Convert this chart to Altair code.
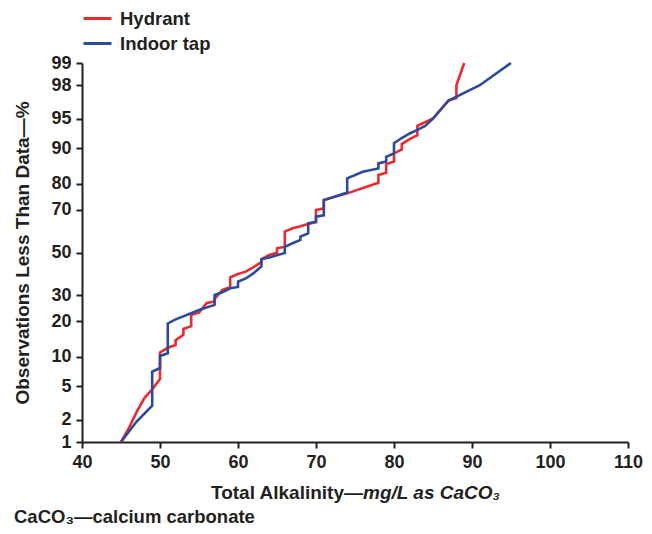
import altair as alt
import pandas as pd
from statistics import NormalDist

# Hydrant: total alkalinity (mg/L as CaCO3) and cumulative percentage
hyd_x = [45, 46, 47, 48, 49, 50, 50, 51, 52, 52, 53, 53, 54, 54, 55, 56, 57, 57, 58, 59, 59,
         60, 61, 62, 63, 63, 64, 65, 65, 66, 66, 67, 68, 69, 70, 70, 71, 71, 74, 78, 78,
         79, 79, 80, 80, 81, 81, 82, 83, 83, 85, 87, 88, 88, 89]
hyd_p = [1.0, 1.55, 2.5, 3.7, 4.65, 6.0, 11.0, 12.1, 12.8, 14.1, 15.6, 17.4, 18.3, 22.2, 23.0, 26.8, 27.4, 28.4, 32.3, 33.5, 38.0,
         39.6, 40.7, 42.9, 45.3, 46.7, 48.8, 49.9, 52.1, 52.8, 60.1, 61.7, 62.6, 63.7, 64.5, 69.9, 70.6, 74.0, 76.6, 80.4, 82.9,
         83.6, 86.1, 86.8, 88.8, 89.7, 90.85, 91.8, 92.5, 94.0, 95.0, 96.9, 97.1, 98.0, 99.0]

# Indoor tap
tap_x = [45, 47, 49, 49, 50, 50, 51, 51, 52, 54, 55, 57, 57, 58, 59, 60, 60, 61, 62, 63, 63,
         64, 66, 66, 67, 68, 68, 69, 69, 70, 70, 71, 71, 74, 74, 76, 78, 78, 79, 79, 80,
         80, 81, 82, 83, 84, 85, 87, 91, 95]
tap_p = [1.0, 1.9, 3.0, 7.2, 7.8, 10.2, 10.8, 19.2, 20.6, 22.8, 24.0, 26.0, 30.1, 31.3, 33.0, 33.6, 36.0, 37.5, 40.0, 43.2, 46.7,
         47.6, 49.8, 52.8, 54.5, 56.1, 57.7, 59.3, 64.0, 64.7, 67.0, 67.6, 74.0, 76.9, 81.9, 83.9, 84.9, 86.3, 86.8, 88.0, 88.8,
         91.0, 92.0, 92.8, 93.4, 94.0, 95.0, 96.9, 98.0, 99.0]

series_names = ["Hydrant", "Indoor tap"]
y_ticks = [1, 2, 5, 10, 20, 30, 50, 70, 80, 90, 95, 98, 99]
x_ticks = [40, 50, 60, 70, 80, 90, 100, 110]

nd = NormalDist()
rows = []
for name, xs, ps in [(series_names[0], hyd_x, hyd_p), (series_names[1], tap_x, tap_p)]:
    for i, (x, p) in enumerate(zip(xs, ps)):
        rows.append({"series": name, "alk": x, "pct": p, "z": nd.inv_cdf(p / 100.0), "i": i})
df = pd.DataFrame(rows)

zt = [nd.inv_cdf(p / 100.0) for p in y_ticks]
zmin, zmax = zt[0], zt[-1]
label_expr = "".join(f"abs(datum.value - ({z:.6f})) < 0.001 ? '{p}' : " for z, p in zip(zt, y_ticks)) + "''"

RED = "#ec2a2e"
BLUE = "#2d4b9d"
INK = "#231f20"
FONT = "Liberation Sans"

lines = alt.Chart(df).mark_line(strokeWidth=2.6, clip=False).encode(
    x=alt.X("alk:Q",
            scale=alt.Scale(domain=[40, 110], nice=False, zero=False),
            axis=alt.Axis(values=x_ticks, title=None, format="d", labelPadding=5)),
    y=alt.Y("z:Q",
            scale=alt.Scale(domain=[zmin, zmax], nice=False, zero=False),
            axis=alt.Axis(values=zt, labelExpr=label_expr, labelPadding=5,
                          title="Observations Less Than Data\u2014%",
                          titleFontSize=19,
                          titleX=-60, titleY=189.5, titleAngle=270,
                          titleAlign="center", titleBaseline="middle")),
    color=alt.Color("series:N",
                    scale=alt.Scale(domain=series_names, range=[RED, BLUE]),
                    legend=alt.Legend(title=None, orient="none", legendX=0, legendY=-60,
                                      symbolType="stroke", symbolSize=784, symbolStrokeWidth=3,
                                      labelFontSize=18.5, labelFontWeight="bold", labelColor=INK,
                                      labelFont=FONT, labelOffset=7, rowPadding=-5, padding=0)),
    order="i:Q",
)

t1 = alt.Chart(pd.DataFrame({"t": ["Total Alkalinity\u2014"]})).mark_text(
    font=FONT, fontSize=19, fontWeight="bold", color=INK, align="right", baseline="middle"
).encode(x=alt.value(281), y=alt.value(430), text="t:N")

t2 = alt.Chart(pd.DataFrame({"t": ["mg/L as CaCO\u2083"]})).mark_text(
    font=FONT, fontSize=19, fontWeight="bold", fontStyle="italic", color=INK, align="left", baseline="middle"
).encode(x=alt.value(281), y=alt.value(430), text="t:N")

foot = alt.Chart(pd.DataFrame({"t": ["CaCO\u2083\u2014calcium carbonate"]})).mark_text(
    font=FONT, fontSize=18.5, fontWeight="bold", color=INK, align="left", baseline="alphabetic"
).encode(x=alt.value(-68), y=alt.value(460), text="t:N")

chart = alt.layer(lines, t1, t2, foot).properties(
    width=546, height=379,
    autosize="none",
    padding={"left": 74, "top": 55, "right": 16, "bottom": 84},
    background="white",
).configure_view(stroke=None).configure_axis(
    domainColor=INK, domainWidth=2, tickColor=INK, tickWidth=2, tickSize=6,
    labelFont=FONT, labelFontSize=18, labelFontWeight="bold", labelColor=INK,
    titleFont=FONT, titleFontSize=18, titleFontWeight="bold", titleColor=INK,
    grid=False, labelFlush=False, labelOverlap=False,
)

chart.save("out.html", embed_options={"renderer": "svg", "actions": False})
